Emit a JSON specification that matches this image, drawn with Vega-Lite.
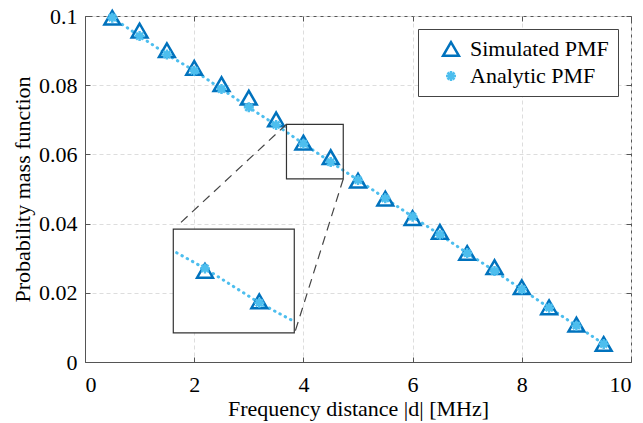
{
  "$schema": "https://vega.github.io/schema/vega-lite/v6.json",
  "width": 546,
  "height": 346,
  "autosize": "none",
  "padding": {"left": 85, "top": 16, "right": 12, "bottom": 61},
  "background": "white",
  "config": {
    "font": "Liberation Serif",
    "view": {"stroke": "#555555", "strokeWidth": 1},
    "axis": {
      "labelFont": "Liberation Serif",
      "labelFontSize": 22,
      "labelColor": "#000000",
      "titleFont": "Liberation Serif",
      "titleFontSize": 22,
      "titleFontWeight": "normal",
      "titleColor": "#000000",
      "domainColor": "#555555",
      "tickColor": "#555555",
      "tickSize": -5,
      "gridColor": "#dddddd",
      "gridDash": [4, 3],
      "gridWidth": 1
    }
  },
  "datasets": {
    "pmf": [
      {"x": 0.5, "pmf": 0.0995, "series": "Simulated PMF"},
      {"x": 1.0, "pmf": 0.0958, "series": "Simulated PMF"},
      {"x": 1.5, "pmf": 0.0901, "series": "Simulated PMF"},
      {"x": 2.0, "pmf": 0.0850, "series": "Simulated PMF"},
      {"x": 2.5, "pmf": 0.0803, "series": "Simulated PMF"},
      {"x": 3.0, "pmf": 0.0764, "series": "Simulated PMF"},
      {"x": 3.5, "pmf": 0.0701, "series": "Simulated PMF"},
      {"x": 4.0, "pmf": 0.0634, "series": "Simulated PMF"},
      {"x": 4.5, "pmf": 0.0592, "series": "Simulated PMF"},
      {"x": 5.0, "pmf": 0.0524, "series": "Simulated PMF"},
      {"x": 5.5, "pmf": 0.0472, "series": "Simulated PMF"},
      {"x": 6.0, "pmf": 0.0416, "series": "Simulated PMF"},
      {"x": 6.5, "pmf": 0.0376, "series": "Simulated PMF"},
      {"x": 7.0, "pmf": 0.0315, "series": "Simulated PMF"},
      {"x": 7.5, "pmf": 0.0274, "series": "Simulated PMF"},
      {"x": 8.0, "pmf": 0.0216, "series": "Simulated PMF"},
      {"x": 8.5, "pmf": 0.0158, "series": "Simulated PMF"},
      {"x": 9.0, "pmf": 0.0108, "series": "Simulated PMF"},
      {"x": 9.5, "pmf": 0.0052, "series": "Simulated PMF"},
      {"x": 0.5, "pmf": 0.0995, "series": "Analytic PMF"},
      {"x": 1.0, "pmf": 0.0942, "series": "Analytic PMF"},
      {"x": 1.5, "pmf": 0.0889, "series": "Analytic PMF"},
      {"x": 2.0, "pmf": 0.0842, "series": "Analytic PMF"},
      {"x": 2.5, "pmf": 0.0789, "series": "Analytic PMF"},
      {"x": 3.0, "pmf": 0.0736, "series": "Analytic PMF"},
      {"x": 3.5, "pmf": 0.0685, "series": "Analytic PMF"},
      {"x": 4.0, "pmf": 0.0631, "series": "Analytic PMF"},
      {"x": 4.5, "pmf": 0.0578, "series": "Analytic PMF"},
      {"x": 5.0, "pmf": 0.0526, "series": "Analytic PMF"},
      {"x": 5.5, "pmf": 0.0473, "series": "Analytic PMF"},
      {"x": 6.0, "pmf": 0.0420, "series": "Analytic PMF"},
      {"x": 6.5, "pmf": 0.0368, "series": "Analytic PMF"},
      {"x": 7.0, "pmf": 0.0315, "series": "Analytic PMF"},
      {"x": 7.5, "pmf": 0.0263, "series": "Analytic PMF"},
      {"x": 8.0, "pmf": 0.0210, "series": "Analytic PMF"},
      {"x": 8.5, "pmf": 0.0157, "series": "Analytic PMF"},
      {"x": 9.0, "pmf": 0.0105, "series": "Analytic PMF"},
      {"x": 9.5, "pmf": 0.0052, "series": "Analytic PMF"}
    ],
    "insetPoints": [
      {"x": 4.0, "pmf": 0.06274, "series": "Simulated PMF"},
      {"x": 4.5, "pmf": 0.05808, "series": "Simulated PMF"},
      {"x": 4.0, "pmf": 0.0631, "series": "Analytic PMF"},
      {"x": 4.5, "pmf": 0.05785, "series": "Analytic PMF"}
    ],
    "insetLine": [
      {"x": 3.739, "pmf": 0.0655},
      {"x": 4.0, "pmf": 0.0631},
      {"x": 4.5, "pmf": 0.05785},
      {"x": 4.822, "pmf": 0.0550}
    ],
    "boxes": [
      {"x1": 1.617, "x2": 3.833, "y1": 0.00844, "y2": 0.0384, "fill": "big"},
      {"x1": 3.69, "x2": 4.73, "y1": 0.0529, "y2": 0.0687, "fill": "small"}
    ],
    "connectors": [
      {"x1": 3.69, "y1": 0.0687, "x2": 1.74, "y2": 0.0401},
      {"x1": 4.73, "y1": 0.0529, "x2": 3.846, "y2": 0.0087}
    ]
  },
  "layer": [
    {
      "layer": [
        {
          "data": {"name": "pmf"},
          "transform": [{"filter": "datum.series === 'Analytic PMF'"}],
          "mark": {"type": "line", "color": "#4DBEEE", "strokeWidth": 3, "strokeDash": [0.5, 5.5], "strokeCap": "round"},
          "encoding": {
            "x": {"field": "x", "type": "quantitative", "scale": {"domain": [0, 10], "nice": false},
                  "axis": {"values": [0, 2, 4, 6, 8, 10], "title": "Frequency distance |d| [MHz]", "labelFont": "Liberation Serif", "labelFontSize": 22, "labelPadding": 17, "titlePadding": 3}},
            "y": {"field": "pmf", "type": "quantitative", "scale": {"domain": [0, 0.1], "nice": false},
                  "axis": {"values": [0, 0.02, 0.04, 0.06, 0.08, 0.1], "format": "~g", "title": "Probability mass function", "labelFont": "Liberation Serif", "labelFontSize": 22, "labelPadding": 13, "titlePadding": 4}}
          }
        },
        {
          "data": {"name": "pmf"},
          "mark": {"type": "point", "filled": false, "strokeWidth": 2.5, "opacity": 1},
          "encoding": {
            "x": {"field": "x", "type": "quantitative",
                  "axis": {"orient": "top", "values": [0, 2, 4, 6, 8, 10], "labels": false, "grid": false, "domain": false, "title": null}},
            "y": {"field": "pmf", "type": "quantitative",
                  "axis": {"orient": "right", "values": [0, 0.02, 0.04, 0.06, 0.08, 0.1], "labels": false, "grid": false, "domain": false, "title": null}},
            "color": {"field": "series", "type": "nominal",
                      "scale": {"domain": ["Simulated PMF", "Analytic PMF"], "range": ["#0072BD", "#4DBEEE"]},
                      "legend": {"orient": "top-right", "offset": 13, "title": null, "labelFont": "Liberation Serif", "labelFontSize": 22, "labelColor": "#000000", "strokeColor": "#444444", "fillColor": "white", "padding": 9, "rowPadding": 4, "symbolSize": 220, "symbolStrokeWidth": 2.5, "symbolOffset": 13, "labelOffset": 8, "labelLimit": 300}},
            "shape": {"field": "series", "type": "nominal",
                      "scale": {"domain": ["Simulated PMF", "Analytic PMF"], "range": ["triangle-up", "M-1,0L1,0M0,-1L0,1M-0.7,-0.7L0.7,0.7M-0.7,0.7L0.7,-0.7"]}},
            "size": {"field": "series", "type": "nominal", "scale": {"domain": ["Simulated PMF", "Analytic PMF"], "range": [250, 100]}, "legend": null}
          }
        },
        {
          "data": {"name": "boxes"},
          "mark": {"type": "rect", "stroke": "#333333", "strokeWidth": 1.2},
          "encoding": {
            "x": {"field": "x1", "type": "quantitative", "axis": null},
            "x2": {"field": "x2"},
            "y": {"field": "y1", "type": "quantitative", "axis": null},
            "y2": {"field": "y2"},
            "fill": {"field": "fill", "type": "nominal", "scale": {"domain": ["big", "small"], "range": ["#ffffff", "transparent"]}, "legend": null}
          }
        },
        {
          "data": {"name": "connectors"},
          "mark": {"type": "rule", "color": "#444444", "strokeWidth": 1.2, "strokeDash": [9, 6]},
          "encoding": {
            "x": {"field": "x1", "type": "quantitative", "axis": null},
            "y": {"field": "y1", "type": "quantitative", "axis": null},
            "x2": {"field": "x2"},
            "y2": {"field": "y2"}
          }
        }
      ],
      "resolve": {"axis": {"x": "independent", "y": "independent"}}
    },
    {
      "layer": [
        {
          "data": {"name": "insetLine"},
          "mark": {"type": "line", "color": "#4DBEEE", "strokeWidth": 3, "strokeDash": [0.5, 5.5], "strokeCap": "round"},
          "encoding": {
            "x": {"field": "x", "type": "quantitative", "scale": {"domain": [2.895, 7.923], "nice": false, "zero": false}, "axis": null},
            "y": {"field": "pmf", "type": "quantitative", "scale": {"domain": [0.04882, 0.10162], "nice": false, "zero": false}, "axis": null}
          }
        },
        {
          "data": {"name": "insetPoints"},
          "mark": {"type": "point", "filled": false, "strokeWidth": 2.5, "opacity": 1},
          "encoding": {
            "x": {"field": "x", "type": "quantitative", "axis": null},
            "y": {"field": "pmf", "type": "quantitative", "axis": null},
            "color": {"field": "series", "type": "nominal"},
            "shape": {"field": "series", "type": "nominal"},
            "size": {"field": "series", "type": "nominal", "legend": null}
          }
        }
      ]
    }
  ],
  "resolve": {"scale": {"x": "independent", "y": "independent"}}
}
